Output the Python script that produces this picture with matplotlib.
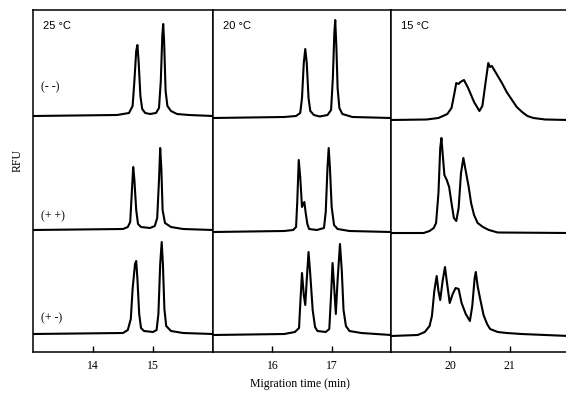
import matplotlib
matplotlib.use("Agg")
import matplotlib.pyplot as plt
import numpy as np

# electropherogram traces: time (min), signal above baseline (RFU, arb.)
# 25 C
t25_mm = [13.0, 14.4, 14.6, 14.66, 14.69, 14.72, 14.74, 14.76, 14.79, 14.82, 14.87, 14.95,
          15.05, 15.1, 15.13, 15.155, 15.17, 15.185, 15.21, 15.24, 15.3, 15.4, 15.6, 16.0]
s25_mm = [0, 1, 3, 10, 35, 65, 71, 55, 20, 7, 3, 2,
          3, 8, 35, 80, 92, 75, 25, 10, 5, 2, 1, 0]
t25_pp = [13.0, 14.5, 14.58, 14.62, 14.64, 14.67, 14.69, 14.72, 14.75, 14.8, 14.95,
          15.03, 15.07, 15.1, 15.12, 15.14, 15.16, 15.2, 15.3, 15.5, 16.0]
s25_pp = [0, 1, 3, 8, 30, 63, 50, 20, 6, 3, 2,
          4, 12, 50, 82, 60, 20, 7, 3, 1, 0]
t25_pm = [13.0, 14.5, 14.58, 14.63, 14.66, 14.70, 14.72, 14.74, 14.77, 14.8, 14.85, 15.0,
          15.06, 15.09, 15.12, 15.145, 15.165, 15.19, 15.22, 15.3, 15.5, 16.0]
s25_pm = [0, 1, 4, 15, 45, 70, 73, 55, 20, 6, 3, 2,
          4, 20, 70, 92, 70, 25, 8, 3, 1, 0]

# 20 C
t20_mm = [15.0, 16.2, 16.4, 16.47, 16.5, 16.53, 16.555, 16.58, 16.61, 16.64, 16.7, 16.8,
          16.93, 16.99, 17.02, 17.045, 17.06, 17.08, 17.1, 17.13, 17.18, 17.35, 18.0]
s20_mm = [0, 1, 2, 5, 20, 55, 69, 55, 20, 7, 3, 1.5,
          3, 8, 40, 85, 98, 70, 30, 10, 4, 1, 0]
t20_pp = [15.0, 16.2, 16.35, 16.40, 16.42, 16.445, 16.47, 16.5, 16.52, 16.54, 16.56, 16.59,
          16.62, 16.75, 16.87, 16.9, 16.93, 16.95, 16.97, 17.0, 17.04, 17.1, 17.3, 18.0]
s20_pp = [0, 1, 2, 5, 30, 72, 55, 25, 28, 30, 20, 8,
          3, 2, 4, 20, 65, 84, 65, 25, 7, 3, 1, 0]
t20_pm = [15.0, 16.2, 16.38, 16.45, 16.47, 16.50, 16.53, 16.555, 16.58, 16.61, 16.64, 16.68,
          16.72, 16.76, 16.9, 16.96, 16.99, 17.015, 17.04, 17.07, 17.1, 17.14, 17.17, 17.2,
          17.24, 17.3, 17.5, 18.0]
s20_pm = [0, 1, 3, 7, 30, 62, 40, 30, 55, 83, 60, 25,
          8, 4, 3, 6, 40, 72, 50, 21, 55, 91, 65, 25,
          9, 4, 2, 0]

# 15 C
t15_mm = [19.0, 19.6, 19.8, 19.95, 20.02, 20.07, 20.1, 20.14, 20.17, 20.23, 20.3, 20.4,
          20.49, 20.54, 20.6, 20.64, 20.67, 20.70, 20.73, 20.8, 20.87, 20.95, 21.04, 21.12,
          21.21, 21.3, 21.4, 21.6, 22.0]
s15_mm = [0, 0.5, 2, 6, 12, 27, 37, 36, 38, 40, 32, 18,
          9, 14, 40, 57, 53, 54, 51, 44, 37, 28, 20, 13,
          8, 4, 2, 0.5, 0]
t15_pp = [19.0, 19.55, 19.65, 19.72, 19.76, 19.8, 19.83, 19.85, 19.87, 19.9, 19.94, 19.98,
          20.02, 20.06, 20.1, 20.14, 20.18, 20.22, 20.26, 20.31, 20.35, 20.4, 20.46, 20.55,
          20.65, 20.8, 22.0]
s15_pp = [0, 0, 2, 5, 10, 40, 85, 95, 80, 58, 53, 46,
          30, 15, 12, 25, 60, 75, 62, 46, 30, 18, 10, 6,
          3, 0.5, 0]
t15_pm = [19.0, 19.45, 19.57, 19.65, 19.69, 19.73, 19.77, 19.8, 19.83, 19.87, 19.91, 19.94,
          19.99, 20.04, 20.09, 20.14, 20.19, 20.26, 20.33, 20.37, 20.41, 20.43, 20.46, 20.5,
          20.56, 20.62, 20.67, 20.8, 20.95, 21.2, 22.0]
s15_pm = [0, 1, 4, 10, 20, 45, 60, 45, 36, 55, 69, 55,
          33, 42, 48, 47, 33, 22, 15, 30, 58, 64, 50, 38,
          21, 12, 7, 4, 3, 2, 0]

temps = ["25 \u00b0C", "20 \u00b0C", "15 \u00b0C"]
samples = ["(- -)", "(+ +)", "(+ -)"]
xticks = [[14, 15], [16, 17], [20, 21]]

traces = [
    [(t25_mm, s25_mm), (t25_pp, s25_pp), (t25_pm, s25_pm)],
    [(t20_mm, s20_mm), (t20_pp, s20_pp), (t20_pm, s20_pm)],
    [(t15_mm, s15_mm), (t15_pp, s15_pp), (t15_pm, s15_pm)],
]

W, H = 566, 404
fig = plt.figure(figsize=(W / 100, H / 100), dpi=100)

# panel geometry in pixels
panels = [(33, 213, 13.0, 16.0), (213, 391, 15.0, 18.0), (391, 566, 19.0, 21.95)]
top_px, bot_px = 10, 352
offsets = [[236, 122, 18], [234, 120, 17], [232, 119, 16]]
serif = ["Liberation Serif", "DejaVu Serif"]

for i, (x0, x1, tmin, tmax) in enumerate(panels):
    ax = fig.add_axes([x0 / W, 1 - bot_px / H, (x1 - x0) / W, (bot_px - top_px) / H])
    for (t, s), off in zip(traces[i], offsets[i]):
        ax.plot(t, np.array(s) + off, color="black", lw=1.5, solid_joinstyle="round")
    ax.set_xlim(tmin, tmax)
    ax.set_ylim(0, bot_px - top_px)
    ax.set_yticks([])
    ax.set_xticks(xticks[i])
    ax.tick_params(axis="x", direction="in", length=4, width=1, pad=6, labelsize=8.5)
    for lab in ax.get_xticklabels():
        lab.set_family(serif)
    for sp in ax.spines.values():
        sp.set_linewidth(1.1)
    if i == 2:
        ax.spines["right"].set_visible(False)
    ax.text(10 / (x1 - x0), 1 - 16 / (bot_px - top_px), temps[i], transform=ax.transAxes,
            fontsize=8, family=["Liberation Sans", "DejaVu Sans"], va="center", ha="left")
    if i == 0:
        for lab, ypx in zip(samples, [87, 216, 318]):
            ax.text(8 / (x1 - x0), (bot_px - ypx) / (bot_px - top_px), lab,
                    transform=ax.transAxes, fontsize=8.5, family=serif, va="center", ha="left")

fig.text(18 / W, 1 - 160 / H, "RFU", rotation=90, fontsize=8.5, family=serif,
         ha="center", va="center")
fig.text(300 / W, 1 - 384 / H, "Migration time (min)", fontsize=8.5, family=serif,
         ha="center", va="center")

fig.savefig("out.png", dpi=100)
